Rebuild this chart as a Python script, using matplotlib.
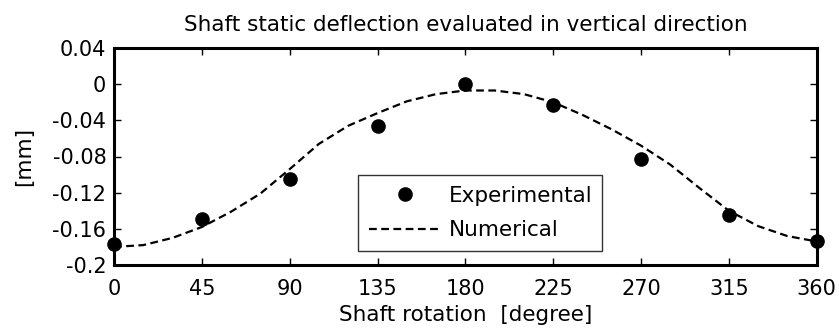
import matplotlib
matplotlib.use("Agg")
import matplotlib.pyplot as plt

plt.rcParams['font.family'] = ['DejaVu Sans']

# Experimental data
exp_angle = [0, 45, 90, 135, 180, 225, 270, 315, 360]
exp_defl = [-0.177, -0.149, -0.105, -0.046, 0.000, -0.023, -0.083, -0.145, -0.174]

# Numerical curve
num_angle = [0, 15, 30, 45, 60, 75, 90, 105, 120, 135, 150, 165, 180,
             195, 210, 225, 240, 255, 270, 285, 300, 315, 330, 345, 360]
num_defl = [-0.180, -0.178, -0.170, -0.158, -0.141, -0.121, -0.094, -0.066,
            -0.046, -0.032, -0.019, -0.011, -0.007, -0.007, -0.011, -0.020,
            -0.034, -0.050, -0.068, -0.089, -0.115, -0.140, -0.157, -0.168,
            -0.174]

xticks = [0, 45, 90, 135, 180, 225, 270, 315, 360]
yticks = [0.04, 0, -0.04, -0.08, -0.12, -0.16, -0.2]
ytick_labels = ['0.04', '0', '-0.04', '-0.08', '-0.12', '-0.16', '-0.2']

fig = plt.figure(figsize=(8.39, 3.31), dpi=100)
ax = fig.add_axes([114/839, 1-265/331, (816.7-114)/839, (265-48)/331])

ax.plot(exp_angle, exp_defl, 'o', color='black', markersize=9.5,
        label='Experimental', clip_on=False, zorder=3)
line, = ax.plot(num_angle, num_defl, color='black', linewidth=1.6,
                label='Numerical')
line.set_dashes([3.5, 2])

ax.set_xlim(0, 360)
ax.set_ylim(-0.2, 0.04)
ax.set_yticks(yticks)
ax.set_yticklabels(ytick_labels)
ax.set_xticks(xticks)
ax.set_xticklabels([str(v) for v in xticks])

ax.tick_params(direction='in', length=5, width=1.0, top=True, right=True,
               labelsize=15)
ax.tick_params(axis='x', pad=10)
ax.tick_params(axis='y', pad=5.5)
for s in ax.spines.values():
    s.set_linewidth(2.2)

ax.set_title('Shaft static deflection evaluated in vertical direction',
             fontsize=15.5, pad=12.5)
ax.set_xlabel('Shaft rotation  [degree]', fontsize=15.5, labelpad=4.5)
ax.set_ylabel('[mm]', fontsize=15.5)
ax.yaxis.set_label_coords(-0.113, 0.5)

lfs = 15.5
leg = ax.legend(loc='upper left', bbox_to_anchor=(0.347, 0.4147, 0.347, 0.0),
                mode='expand', fontsize=lfs, frameon=True, fancybox=False,
                borderaxespad=0, handlelength=3.4, handletextpad=0.35,
                labelspacing=0.68, borderpad=0.5)
leg.get_frame().set_edgecolor('black')
leg.get_frame().set_linewidth(1.0)

fig.savefig('out.png', dpi=100)
